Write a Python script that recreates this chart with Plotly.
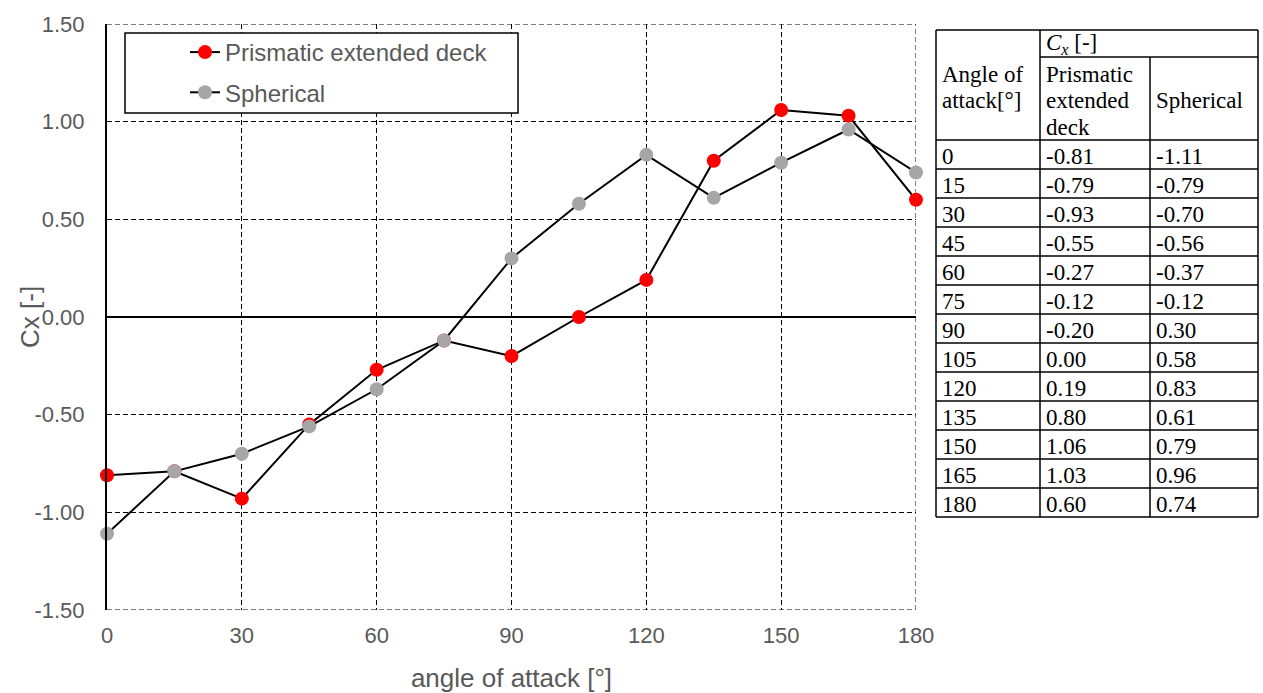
import plotly.graph_objects as go

angles = [0, 15, 30, 45, 60, 75, 90, 105, 120, 135, 150, 165, 180]
prismatic = [-0.81, -0.79, -0.93, -0.55, -0.27, -0.12, -0.20, 0.00, 0.19, 0.80, 1.06, 1.03, 0.60]
spherical = [-1.11, -0.79, -0.70, -0.56, -0.37, -0.12, 0.30, 0.58, 0.83, 0.61, 0.79, 0.96, 0.74]
series_names = ["Prismatic extended deck", "Spherical"]
x_ticks = [0, 30, 60, 90, 120, 150, 180]
x_tick_labels = ["0", "30", "60", "90", "120", "150", "180"]
y_ticks = [-1.5, -1.0, -0.5, 0.0, 0.5, 1.0, 1.5]
y_tick_labels = ["-1.50", "-1.00", "-0.50", "0.00", "0.50", "1.00", "1.50"]

W, H = 1263, 693
L, R, T, B = 107, 916, 24, 610   # plot area in page pixels

def px(x):
    return (x - L) / (R - L)

def py(y):
    return (B - y) / (B - T)

fig = go.Figure()
fig.add_trace(go.Scatter(x=angles, y=prismatic, mode="lines+markers", name=series_names[0],
                         legendgroup="a", cliponaxis=False,
                         line=dict(color="black", width=2),
                         marker=dict(color="#FF0000", size=14)))
fig.add_trace(go.Scatter(x=angles, y=spherical, mode="lines+markers", name=series_names[1],
                         legendgroup="b", cliponaxis=False,
                         line=dict(color="black", width=2),
                         marker=dict(color="#A6A6A6", size=14)))

tick_font = dict(family="Liberation Sans, Arial", size=22, color="#595959")
title_font = dict(family="Liberation Sans, Arial", size=26, color="#595959")
dash = "5px,3px"

fig.update_layout(
    width=W, height=H,
    margin=dict(l=L, r=W - R, t=T, b=H - B, autoexpand=False),
    paper_bgcolor="white", plot_bgcolor="white",
    showlegend=True,
    legend=dict(x=px(185), y=py(30), xanchor="left", yanchor="top",
                borderwidth=0, bgcolor="rgba(0,0,0,0)", traceorder="grouped", tracegroupgap=6,
                font=dict(family="Liberation Sans, Arial", size=24, color="#595959")),
    xaxis=dict(range=[0, 180], tickvals=x_ticks, ticktext=x_tick_labels, showgrid=True, gridcolor="black",
               griddash=dash, gridwidth=1, zeroline=False, showline=False,
               tickfont=tick_font, ticks="", ticklabelstandoff=10,
               title=dict(text="angle of attack [°]", font=title_font, standoff=21)),
    yaxis=dict(range=[-1.5, 1.5], tickvals=y_ticks, ticktext=y_tick_labels, showgrid=True, gridcolor="black",
               griddash=dash, gridwidth=1, zeroline=True, zerolinecolor="black", zerolinewidth=1.5,
               showline=True, linecolor="black", linewidth=2, tickfont=tick_font, ticks="",
               ticklabelstandoff=16),
)

shapes = []
annotations = []

# y axis title
annotations.append(dict(text="Cx [-]", x=px(30), y=0.0, yref="y", xref="paper", xanchor="center",
                        yanchor="middle", textangle=-90, showarrow=False, font=title_font))

# border gridlines (top, bottom, right) dashed like the grid
for (x0, y0, x1, y1) in [(0, 1.5, 180, 1.5), (0, -1.5, 180, -1.5), (180, -1.5, 180, 1.5)]:
    shapes.append(dict(type="line", xref="x", yref="y", x0=x0, y0=y0, x1=x1, y1=y1,
                       line=dict(color="black", width=1, dash=dash), layer="below"))

# legend box
shapes.append(dict(type="rect", xref="paper", yref="paper", x0=px(125), x1=px(518), y0=py(113), y1=py(33),
                   line=dict(color="black", width=1.5), fillcolor="white", layer="above"))

# ---------- table ----------
cols = [936, 1040, 1150, 1258]
top = 30
sub = 57
hdr = 140
rowh = 29
nrows = len(angles)
bottom = hdr + rowh * nrows
lw = 1.5

def hline(x0, x1, y):
    shapes.append(dict(type="line", xref="paper", yref="paper", x0=px(x0), x1=px(x1), y0=py(y), y1=py(y),
                       line=dict(color="black", width=lw)))

def vline(x, y0, y1):
    shapes.append(dict(type="line", xref="paper", yref="paper", x0=px(x), x1=px(x), y0=py(y0), y1=py(y1),
                       line=dict(color="black", width=lw)))

hline(cols[0], cols[3], top)
hline(cols[1], cols[3], sub)
for i in range(nrows + 1):
    hline(cols[0], cols[3], hdr + i * rowh)
vline(cols[0], top, bottom)
vline(cols[1], top, bottom)
vline(cols[2], sub, bottom)
vline(cols[3], top, bottom)

tfont = dict(family="Liberation Serif, Times New Roman", size=23, color="black")

def txt(x, y, s):
    annotations.append(dict(text=s, x=px(x), y=py(y), xref="paper", yref="paper", xanchor="left",
                            yanchor="middle", showarrow=False, font=tfont, borderpad=0))

pad = 5
txt(cols[1] + pad, 44, "<i>C<sub>x</sub></i> [-]")
txt(cols[0] + pad, 74, "Angle of")
txt(cols[0] + pad, 101, "attack[°]")
txt(cols[1] + pad, 74, "Prismatic")
txt(cols[1] + pad, 101, "extended")
txt(cols[1] + pad, 128, "deck")
txt(cols[2] + pad, 101, "Spherical")
for i in range(nrows):
    yc = hdr + i * rowh + rowh / 2 + 2
    txt(cols[0] + pad, yc, str(angles[i]))
    txt(cols[1] + pad, yc, f"{prismatic[i]:.2f}")
    txt(cols[2] + pad, yc, f"{spherical[i]:.2f}")

fig.update_layout(shapes=shapes, annotations=annotations)
fig.write_html("out.html", config={"displayModeBar": False},
               post_script="document.body.style.margin='0';document.body.style.overflow='hidden';")
